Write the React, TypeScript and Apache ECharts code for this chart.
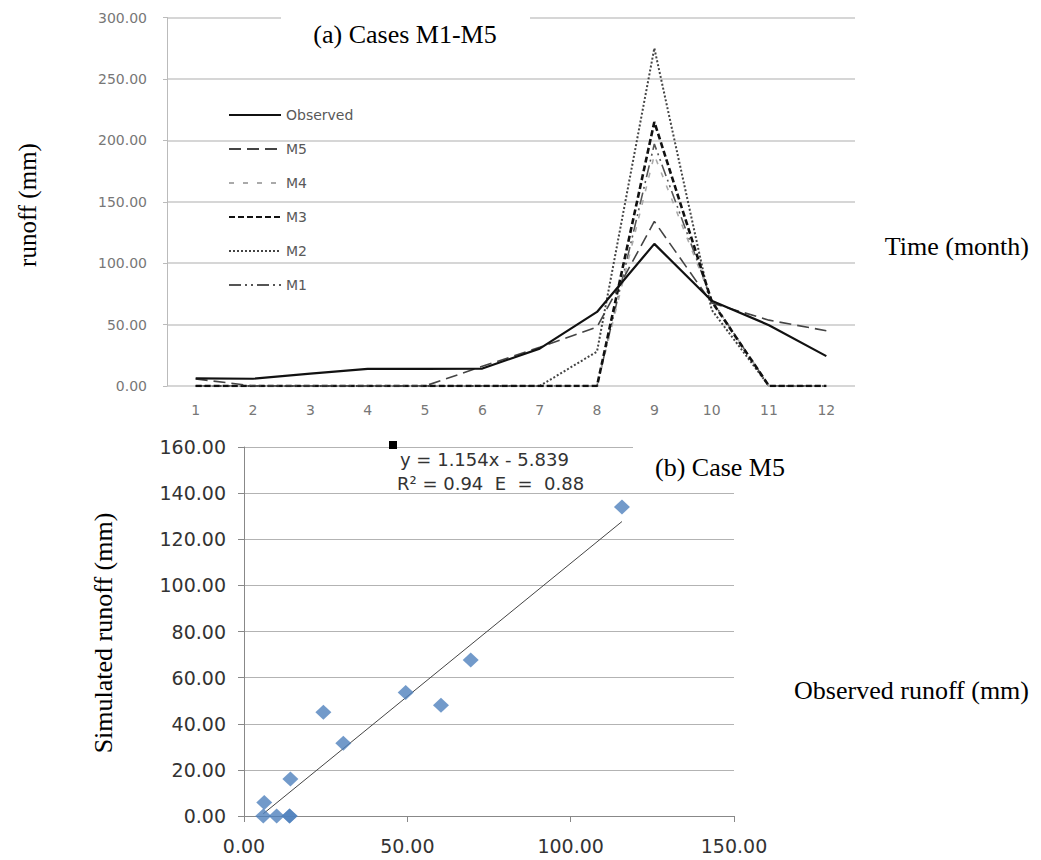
import React, { useEffect, useRef } from 'react';
import * as echarts from 'echarts';

const months = ['1', '2', '3', '4', '5', '6', '7', '8', '9', '10', '11', '12'];
const observed = [6.2, 5.9, 10.0, 13.9, 14.0, 14.2, 30.4, 60.3, 115.7, 69.4, 49.5, 24.3];
const m5 = [5.8, 0, 0, 0, 0, 16.0, 31.5, 48.0, 134.0, 67.6, 53.6, 45.0];
const m4 = [0, 0, 0, 0, 0, 0, 0, 0, 188, 70, 0, 0];
const m3 = [0, 0, 0, 0, 0, 0, 0, 0, 215, 69, 0, 0];
const m2 = [0, 0, 0, 0, 0, 0, 0, 28, 275, 62, 0, 0];
const m1 = [0, 0, 0, 0, 0, 0, 0, 0, 197, 70, 0, 0];

const trendSlope = 1.154;
const trendIntercept = -5.839;

const serif = '"Liberation Serif", "Times New Roman", serif';
const sans = '"DejaVu Sans", sans-serif';

export default function App() {
  const ref = useRef<HTMLDivElement>(null);
  useEffect(() => {
    document.body.style.margin = '0';
    const chart = echarts.init(ref.current as HTMLDivElement, null, { renderer: 'svg' });
    const scatterData = observed.map((o, i) => [o, m5[i]]);
    const xMin = Math.min(...observed);
    const xMax = Math.max(...observed);
    const trendData = [
      [xMin, trendSlope * xMin + trendIntercept],
      [xMax, trendSlope * xMax + trendIntercept],
    ];
    const fmt2 = (v: number) => v.toFixed(2);
    const lineSeries = (name: string, data: number[], color: string, width: number, type: any, z: number) => ({
      name, type: 'line', xAxisIndex: 0, yAxisIndex: 0, data,
      symbol: 'none',
      lineStyle: { color, width, type }, itemStyle: { color }, z,
    });
    const option: any = {
      animation: false,
      backgroundColor: '#ffffff',
      grid: [
        { left: 167, top: 17.5, width: 688, height: 368.5 },
        { left: 244, top: 447, width: 490, height: 369 },
      ],
      legend: {
        orient: 'vertical',
        left: 228,
        top: 108,
        padding: 0,
        itemWidth: 52,
        itemHeight: 14,
        itemGap: 20,
        data: ['Observed', 'M5', 'M4', 'M3', 'M2', 'M1'],
        itemStyle: { opacity: 0 },
        textStyle: { color: '#595959', fontFamily: sans, fontSize: 14 },
      },
      xAxis: [
        {
          type: 'category',
          gridIndex: 0,
          data: months,
          boundaryGap: true,
          axisLine: { show: false },
          axisTick: { show: false },
          axisLabel: { color: '#777', fontFamily: sans, fontSize: 14, margin: 17 },
          splitLine: { show: false },
        },
        {
          type: 'value',
          gridIndex: 1,
          min: 0,
          max: 150,
          interval: 50,
          axisLine: { show: true, lineStyle: { color: '#888', width: 1 } },
          axisTick: { show: true, length: 6, lineStyle: { color: '#888' } },
          axisLabel: { color: '#333', fontFamily: sans, fontSize: 19, margin: 20, formatter: fmt2 },
          splitLine: { show: false },
        },
      ],
      yAxis: [
        {
          type: 'value',
          gridIndex: 0,
          min: 0,
          max: 300,
          interval: 50,
          axisLine: { show: true, lineStyle: { color: '#bbb', width: 1 } },
          axisTick: { show: true, length: 4, lineStyle: { color: '#bbb' } },
          axisLabel: { color: '#777', fontFamily: sans, fontSize: 14, margin: 20, formatter: fmt2 },
          splitLine: { show: true, lineStyle: { color: '#d6d6d6', width: 1.8 } },
        },
        {
          type: 'value',
          gridIndex: 1,
          min: 0,
          max: 160,
          interval: 20,
          axisLine: { show: true, lineStyle: { color: '#888', width: 1 } },
          axisTick: { show: true, length: 6, lineStyle: { color: '#888' } },
          axisLabel: { color: '#333', fontFamily: sans, fontSize: 19, margin: 18, formatter: fmt2 },
          splitLine: { show: true, lineStyle: { color: '#b3b3b3', width: 1 } },
        },
      ],
      series: [
        lineSeries('M1', m1, '#555', 1.6, [12, 4, 2, 4, 2, 4], 2),
        lineSeries('M2', m2, '#444', 2, [2, 2], 2),
        lineSeries('M3', m3, '#111', 2.6, [6, 3], 3),
        lineSeries('M4', m4, '#aaa', 1.6, [5, 9], 2),
        lineSeries('M5', m5, '#444', 1.6, [12, 6], 3),
        lineSeries('Observed', observed, '#111', 2.2, 'solid', 4),
        {
          name: 'Trend', type: 'line', xAxisIndex: 1, yAxisIndex: 1, data: trendData, symbol: 'none',
          lineStyle: { color: '#444', width: 1 }, z: 2,
        },
        {
          name: 'Case M5', type: 'scatter', xAxisIndex: 1, yAxisIndex: 1, data: scatterData,
          symbol: 'diamond', symbolSize: [16, 15], itemStyle: { color: '#4F81BD' }, clip: false, z: 3,
        },
      ],
      graphic: [
        { type: 'rect', left: 281, top: 8, shape: { width: 249, height: 20 }, style: { fill: '#fff' }, z: 10 },
        {
          type: 'text', x: 405, y: 34, z: 11,
          style: { text: '(a) Cases M1-M5', font: `26px ${serif}`, fill: '#000', textAlign: 'center', textVerticalAlign: 'middle' },
        },
        {
          type: 'text', x: 27, y: 205, rotation: Math.PI / 2, z: 11,
          style: { text: 'runoff (mm)', font: `25px ${serif}`, fill: '#000', textAlign: 'center', textVerticalAlign: 'middle' },
        },
        {
          type: 'text', x: 1029, y: 246, z: 11,
          style: { text: 'Time (month)', font: `26px ${serif}`, fill: '#000', textAlign: 'right', textVerticalAlign: 'middle' },
        },
        { type: 'rect', left: 633, top: 440, shape: { width: 120, height: 14 }, style: { fill: '#fff' }, z: 10 },
        { type: 'rect', left: 389, top: 441, shape: { width: 8, height: 8 }, style: { fill: '#000' }, z: 11 },
        {
          type: 'text', x: 400, y: 459, z: 11,
          style: { text: 'y = 1.154x - 5.839', font: `18px ${sans}`, fill: '#333', textAlign: 'left', textVerticalAlign: 'middle' },
        },
        {
          type: 'text', x: 397, y: 483, z: 11,
          style: { text: 'R² = 0.94  E  =  0.88', font: `18px ${sans}`, fill: '#333', textAlign: 'left', textVerticalAlign: 'middle' },
        },
        {
          type: 'text', x: 720, y: 467, z: 11,
          style: { text: '(b) Case M5', font: `26px ${serif}`, fill: '#000', textAlign: 'center', textVerticalAlign: 'middle' },
        },
        {
          type: 'text', x: 103, y: 633, rotation: Math.PI / 2, z: 11,
          style: { text: 'Simulated runoff (mm)', font: `26px ${serif}`, fill: '#000', textAlign: 'center', textVerticalAlign: 'middle' },
        },
        {
          type: 'text', x: 1029, y: 690, z: 11,
          style: { text: 'Observed runoff (mm)', font: `26px ${serif}`, fill: '#000', textAlign: 'right', textVerticalAlign: 'middle' },
        },
      ],
    };
    chart.setOption(option);
    return () => chart.dispose();
  }, []);
  return <div ref={ref} style={{ width: 1041, height: 860 }} />;
}
